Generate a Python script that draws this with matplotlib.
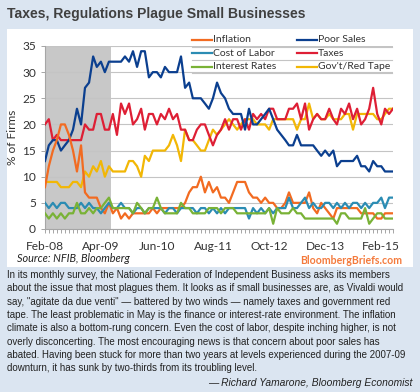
import numpy as np
import pandas as pd
import matplotlib
matplotlib.use("Agg")
import matplotlib.pyplot as plt
import matplotlib.dates as mdates
from matplotlib.lines import Line2D
from matplotlib.patches import Rectangle

# monthly readings, Feb-08 .. May-15 (% of firms naming the issue)
inflation = [8, 12, 15, 17, 20, 20, 18, 15, 11, 16, 7, 6, 6, 6, 4, 3, 5, 3, 4, 2,
             3, 2, 3, 3, 3, 3, 3, 4, 3, 4, 4, 4, 4, 4, 4, 5, 7, 8, 8, 10,
             7, 9, 7, 8, 6, 6, 5, 7, 9, 9, 9, 7, 6, 6, 5, 6, 5, 5, 4, 4,
             5, 7, 5, 5, 5, 5, 7, 4, 3, 5, 4, 3, 2, 4, 4, 4, 4, 4, 4, 3,
             3, 3, 3, 2, 2, 3, 3, 3]
cost_of_labor = [5, 4, 5, 4, 5, 5, 4, 4, 4, 5, 4, 5, 4, 4, 3, 4, 5, 4, 4, 5,
                 4, 4, 3, 4, 4, 3, 4, 4, 4, 4, 3, 4, 4, 3, 4, 4, 4, 4, 3, 4,
                 4, 3, 4, 3, 4, 3, 4, 4, 4, 4, 4, 2, 4, 3, 4, 3, 4, 3, 4, 4,
                 4, 6, 4, 4, 5, 6, 4, 5, 4, 4, 5, 5, 4, 5, 4, 5, 4, 5, 5, 4,
                 5, 4, 5, 5, 6, 4, 6, 6]
interest_rates = [3, 2, 3, 2, 3, 2, 3, 3, 5, 3, 3, 4, 3, 4, 4, 5, 6, 4, 4, 4,
                  4, 4, 3, 5, 4, 3, 4, 4, 6, 4, 3, 3, 3, 3, 5, 4, 4, 3, 3, 3,
                  3, 4, 4, 4, 3, 4, 4, 4, 3, 3, 3, 3, 3, 3, 3, 3, 4, 1, 4, 3,
                  3, 3, 4, 3, 3, 2, 2, 2, 2, 2, 2, 2, 2, 1, 3, 3, 2, 2, 2, 2,
                  4, 1, 2, 3, 3, 2, 2, 2]
poor_sales = [13, 16, 17, 17, 15, 16, 17, 19, 23, 20, 27, 28, 33, 31, 32, 30, 32, 32, 32, 32,
              33, 32, 34, 31, 34, 34, 29, 30, 30, 29, 31, 30, 30, 30, 33, 27, 28, 25, 25, 25,
              24, 23, 25, 28, 26, 25, 23, 22, 22, 22, 19, 23, 20, 20, 21, 22, 23, 21, 19, 18,
              17, 16, 16, 18, 16, 16, 16, 16, 15, 14, 15, 14, 15, 12, 13, 13, 13, 13, 14, 12,
              12, 11, 13, 12, 12, 11, 11, 11]
taxes = [20, 21, 17, 18, 17, 17, 17, 17, 17, 17, 20, 19, 19, 22, 22, 19, 19, 22, 18, 24,
         22, 24, 20, 21, 23, 19, 22, 22, 20, 22, 21, 23, 21, 22, 19, 19, 17, 17, 19, 20,
         20, 18, 16, 18, 19, 21, 19, 21, 21, 19, 21, 19, 22, 21, 22, 21, 23, 23, 21, 21,
         21, 23, 23, 24, 21, 24, 19, 21, 22, 21, 21, 23, 21, 20, 23, 22, 24, 21, 23, 20,
         21, 23, 27, 22, 20, 23, 22, 23]
red_tape = [9, 9, 9, 9, 8, 8, 8, 9, 9, 8, 11, 10, 12, 11, 13, 10, 12, 11, 11, 11,
            11, 13, 13, 12, 10, 14, 13, 15, 15, 15, 15, 16, 18, 16, 13, 19, 17, 17, 16, 15,
            15, 17, 19, 18, 19, 20, 21, 20, 19, 20, 21, 21, 21, 20, 20, 20, 19, 21, 21, 21,
            21, 21, 21, 19, 21, 21, 24, 21, 22, 21, 21, 22, 21, 21, 21, 22, 22, 19, 22, 22,
            22, 22, 22, 21, 21, 22, 23, 23]

dates = pd.date_range("2008-02-01", periods=len(poor_sales), freq="MS")
recession = (pd.Timestamp("2008-02-01"), pd.Timestamp("2009-06-15"))

series = [
    ("Inflation", inflation, "#f26b21"),
    ("Cost of Labor", cost_of_labor, "#2b8cb3"),
    ("Interest Rates", interest_rates, "#79b236"),
    ("Poor Sales", poor_sales, "#0b3f8f"),
    ("Taxes", taxes, "#de1f35"),
    ("Gov't/Red Tape", red_tape, "#f2b705"),
]
draw_order = [5, 4, 3, 0, 1, 2]

W, H = 420, 392
fig = plt.figure(figsize=(W / 100, H / 100), dpi=100, facecolor="#dbe5f1")

def fx(px):
    return px / W

def fy(py):
    return 1 - py / H

# white chart panel
fig.patches.append(Rectangle((fx(7), fy(267)), fx(406), (267 - 29) / H,
                             transform=fig.transFigure, facecolor="white",
                             edgecolor="none", zorder=-10))

fig.text(fx(7), fy(14), "Taxes, Regulations Plague Small Businesses",
         family="Liberation Sans", weight="bold", fontsize=10.1,
         color="#404040", va="center", ha="left")

ax = fig.add_axes([fx(45), fy(229), fx(393) - fx(45), (229 - 46) / H])
ax.set_zorder(1)
ax.set_facecolor("none")
ax.axvspan(recession[0], recession[1], color="#c8c8c8", lw=0, zorder=0)
for i in draw_order:
    name, vals, col = series[i]
    ax.plot(dates, vals, color=col, lw=1.6, zorder=3)

ax.set_ylim(0, 35)
ax.set_yticks(range(0, 36, 5))
ax.set_xlim(dates[0], dates[-1])
ax.set_xticks(dates[::14])
ax.xaxis.set_major_formatter(mdates.DateFormatter("%b-%y"))
ax.xaxis.set_minor_locator(mdates.MonthLocator())
ax.grid(axis="y", color="#c4c4c4", lw=0.8, zorder=1)
ax.set_axisbelow(True)
for s in ["top", "right"]:
    ax.spines[s].set_visible(False)
for s in ["left", "bottom"]:
    ax.spines[s].set_color("#a6a6a6")
    ax.spines[s].set_linewidth(0.8)
ax.tick_params(axis="both", which="both", direction="out", length=3,
               color="#a6a6a6", width=0.7, labelsize=8.6, labelcolor="#333333")
ax.tick_params(axis="x", pad=6)
for lab in ax.get_xticklabels() + ax.get_yticklabels():
    lab.set_family("Lato")
ax.set_ylabel("% of Firms", family="Lato", fontsize=8.6, color="#333333", labelpad=3)

# legend: two columns, three rows with rules underneath
col_x = [192, 297]
row_y = [40, 53.3, 66.5]
for k, (name, vals, col) in enumerate(series):
    c, r = divmod(k, 3)
    x0 = col_x[c]
    fig.lines.append(Line2D([fx(x0), fx(x0 + 20)], [fy(row_y[r]), fy(row_y[r])],
                            transform=fig.transFigure, color=col, lw=1.6))
    fig.text(fx(x0 + 21), fy(row_y[r]), name, family="Lato", fontsize=7.5,
             color="#333333", va="center", ha="left")
for yy in [46.5, 59.5, 72.5]:
    fig.lines.append(Line2D([fx(192), fx(392)], [fy(yy), fy(yy)],
                            transform=fig.transFigure, color="#c4c4c4", lw=0.8))

fig.text(fx(17), fy(258), "Source: NFIB, Bloomberg", family="Lato",
         style="italic", fontsize=7.8, color="#222222", va="center")
fig.text(fx(402), fy(260), "BloombergBriefs.com", family="Lato", weight="bold",
         fontsize=7.6, color="#f47a3c", va="center", ha="right")

para = [
    "In its monthly survey, the National Federation of Independent Business asks its members",
    "about the issue that most plagues them. It looks as if small businesses are, as Vivaldi would",
    "say, \"agitate da due venti\" \u2014 battered by two winds \u2014 namely taxes and government red",
    "tape. The least problematic in May is the finance or interest-rate environment. The inflation",
    "climate is also a bottom-rung concern. Even the cost of labor, despite inching higher, is not",
    "overly disconcerting. The most encouraging news is that concern about poor sales has",
    "abated. Having been stuck for more than two years at levels experienced during the 2007-09",
    "downturn, it has sunk by two-thirds from its troubling level.",
]
for j, line in enumerate(para):
    fig.text(fx(7), fy(275 + j * 13.33), line, family="Liberation Sans",
             fontsize=7.0, color="#222222", va="center", ha="left")
fig.text(fx(412), fy(383), "\u2014 Richard Yamarone, Bloomberg Economist",
         family="Liberation Sans", style="italic", fontsize=7.4,
         color="#222222", va="center", ha="right")

fig.savefig("out.png", dpi=100, facecolor=fig.get_facecolor())
